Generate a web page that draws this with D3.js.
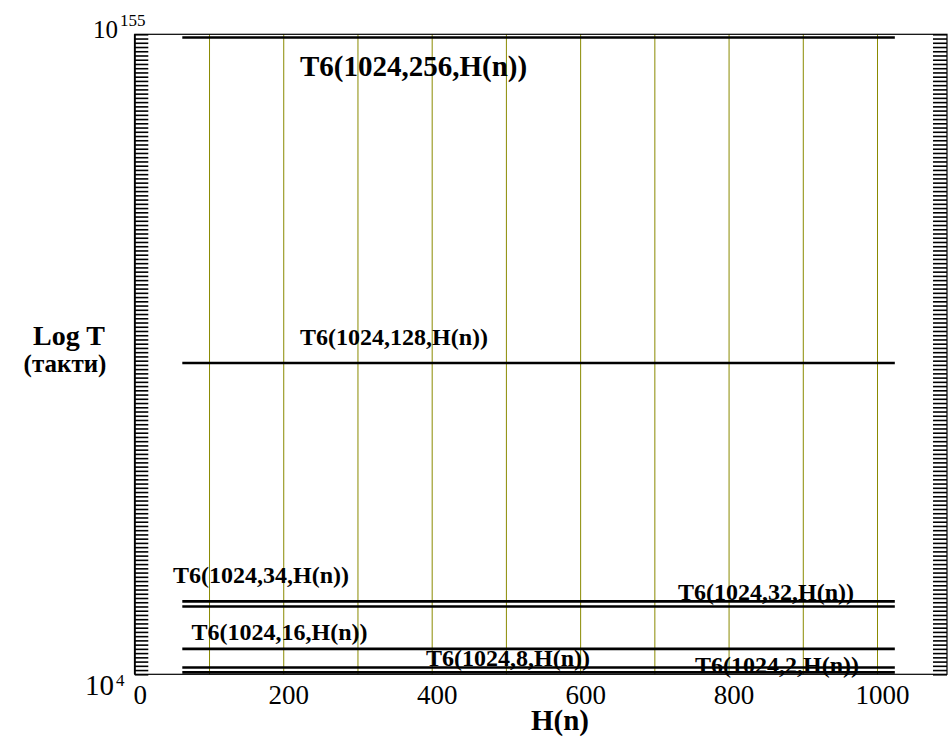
<!DOCTYPE html>
<html>
<head>
<meta charset="utf-8">
<script src="https://cdn.jsdelivr.net/npm/d3@7"></script>
<style>
  html, body { margin: 0; padding: 0; background: #fff; }
  svg { display: block; }
  text { font-family: "Liberation Serif", "Times New Roman", serif; fill: #000; }
</style>
</head>
<body>
<svg id="chart" width="948" height="737"></svg>
<script>
// Series: T6(1024, k, H(n)) — each one is flat across the H(n) range.
const seriesNames = [
  "T6(1024,256,H(n))",
  "T6(1024,128,H(n))",
  "T6(1024,34,H(n))",
  "T6(1024,32,H(n))",
  "T6(1024,16,H(n))",
  "T6(1024,8,H(n))",
  "T6(1024,2,H(n))"
];
// log10 of T (cycles) for each series
const log10T = [154.25, 77.45, 21.2, 20.0, 10.0, 5.6, 4.45];
// H(n) values where every curve starts and ends
const hValues = [64, 1024];

// Axis ticks
const gridTicks = [100, 200, 300, 400, 500, 600, 700, 800, 900, 1000];
const xTickLabels = [0, 200, 400, 600, 800, 1000];
const yDomainExp = [4, 155];

// Where each curve label sits: H(n) of its left edge, baseline offset from the curve (px)
const labelAnchor = [
  { h: 222.6, dy: 39, size: 29 },
  { h: 222.6, dy: -18, size: 24 },
  { h: 51.5, dy: -18, size: 24 },
  { h: 732, dy: -6, size: 24 },
  { h: 76.4, dy: -9, size: 24 },
  { h: 392.3, dy: -1.5, size: 24 },
  { h: 754.8, dy: 1, size: 24 }
];

(function draw() {
  const svg = d3.select("#chart");
  const pLeft = 134.8, pRight = 947, pTop = 34.3, pBottom = 674.3;

  const x = d3.scaleLinear().domain([0, 1094.3]).range([pLeft, pRight]);
  const y = d3.scaleLog()
    .domain([Math.pow(10, yDomainExp[0]), Math.pow(10, yDomainExp[1])])
    .range([pBottom, pTop]);

  const decades = d3.range(yDomainExp[0], yDomainExp[1] + 1).map(e => Math.pow(10, e));

  // Vertical grid lines
  const grid = svg.append("g")
    .attr("transform", `translate(0,${pBottom})`)
    .call(d3.axisBottom(x).tickValues(gridTicks).tickSize(-(pBottom - pTop)).tickFormat(""));
  grid.select(".domain").remove();
  grid.selectAll(".tick line").attr("stroke", "#8a8a00").attr("stroke-width", 1);

  // Decade ticks on the left and right edges, pointing inward
  const yl = svg.append("g")
    .attr("transform", `translate(${pLeft},0)`)
    .call(d3.axisLeft(y).tickValues(decades).tickSize(-13.5).tickFormat(""));
  yl.select(".domain").remove();
  yl.selectAll(".tick line").attr("stroke", "#000").attr("stroke-width", 1.6);

  const yr = svg.append("g")
    .attr("transform", `translate(${pRight},0)`)
    .call(d3.axisRight(y).tickValues(decades).tickSize(-14).tickFormat(""));
  yr.select(".domain").remove();
  yr.selectAll(".tick line").attr("stroke", "#000").attr("stroke-width", 1.6);

  // Frame
  svg.append("rect")
    .attr("x", pLeft).attr("y", pTop)
    .attr("width", pRight - pLeft).attr("height", pBottom - pTop)
    .attr("fill", "none").attr("stroke", "#000").attr("stroke-width", 1.2);
  svg.append("line")
    .attr("x1", pLeft).attr("x2", pLeft).attr("y1", pTop).attr("y2", pBottom)
    .attr("stroke", "#000").attr("stroke-width", 1.8);

  // Curves
  const line = d3.line().x(d => x(d[0])).y(d => y(d[1]));
  seriesNames.forEach((name, i) => {
    const pts = hValues.map(h => [h, Math.pow(10, log10T[i])]);
    svg.append("path")
      .datum(pts)
      .attr("d", line)
      .attr("fill", "none")
      .attr("stroke", "#000")
      .attr("stroke-width", 2.6);
  });

  // Curve labels
  seriesNames.forEach((name, i) => {
    const a = labelAnchor[i];
    svg.append("text")
      .attr("x", x(a.h))
      .attr("y", y(Math.pow(10, log10T[i])) + a.dy)
      .attr("font-size", a.size)
      .attr("font-weight", "bold")
      .text(name);
  });

  // X tick labels
  const xl = svg.append("g")
    .attr("transform", `translate(5,${pBottom})`)
    .call(d3.axisBottom(x).tickValues(xTickLabels).tickSize(0).tickPadding(0).tickFormat(d3.format("d")));
  xl.select(".domain").remove();
  xl.selectAll(".tick text")
    .attr("font-size", 27)
    .attr("dy", 0)
    .attr("y", 30)
    .attr("fill", "#000")
    .style("font-family", "'Liberation Serif', serif");

  // Y end labels: 10^155 at the top, 10^4 at the bottom
  const yTopLabel = svg.append("text")
    .attr("x", 93).attr("y", y(Math.pow(10, yDomainExp[1])) + 4)
    .attr("font-size", 25);
  yTopLabel.append("tspan").text("10");
  yTopLabel.append("tspan").attr("dx", 2).attr("dy", -12).attr("font-size", 17).text(yDomainExp[1]);

  const yBotLabel = svg.append("text")
    .attr("x", 85).attr("y", y(Math.pow(10, yDomainExp[0])) + 20.5)
    .attr("font-size", 29);
  yBotLabel.append("tspan").text("10");
  yBotLabel.append("tspan").attr("dx", 2).attr("dy", -8.5).attr("font-size", 17).text(yDomainExp[0]);

  // Axis titles
  svg.append("text")
    .attr("x", 69).attr("y", 345)
    .attr("text-anchor", "middle")
    .attr("font-size", 28).attr("font-weight", "bold")
    .text("Log T");
  svg.append("text")
    .attr("x", 65).attr("y", 372)
    .attr("text-anchor", "middle")
    .attr("font-size", 25).attr("font-weight", "bold")
    .text("(такти)");
  svg.append("text")
    .attr("x", 560).attr("y", 730)
    .attr("text-anchor", "middle")
    .attr("font-size", 29).attr("font-weight", "bold")
    .text("H(n)");
})();
</script>
</body>
</html>
